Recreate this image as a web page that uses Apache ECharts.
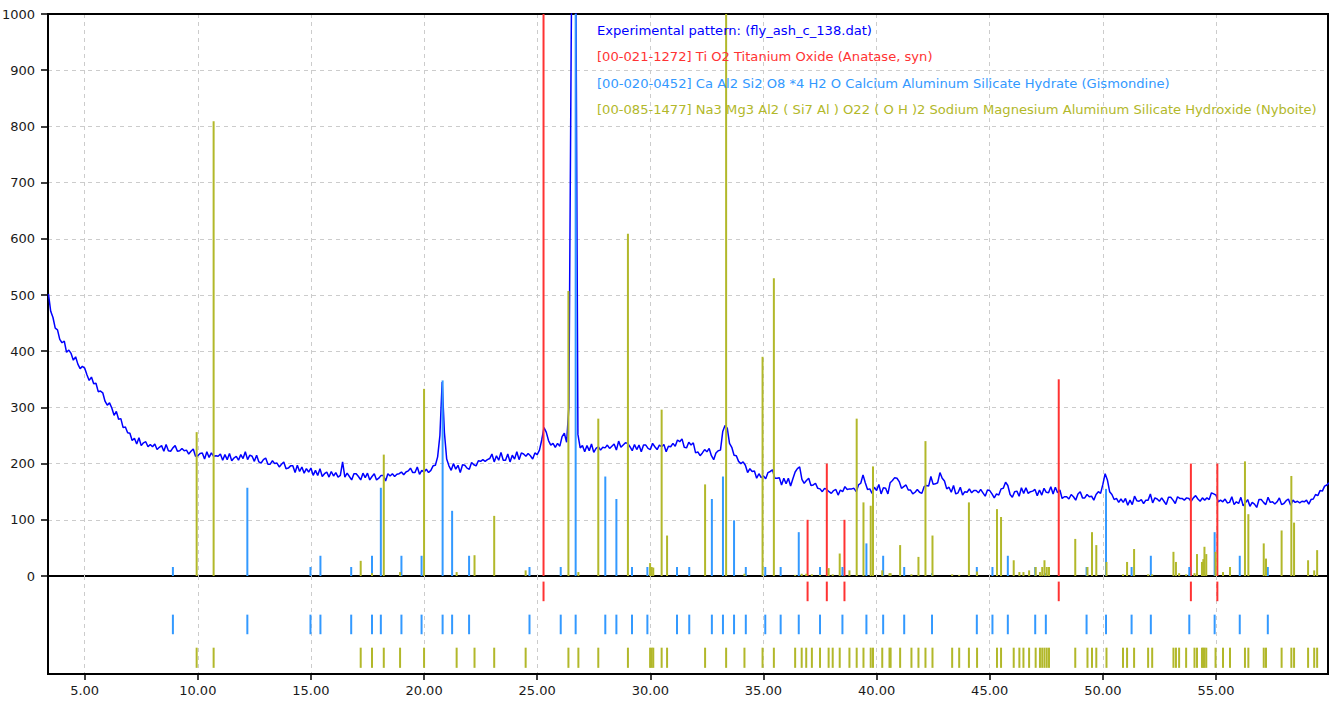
<!DOCTYPE html>
<html>
<head>
<meta charset="utf-8">
<title>XRD pattern – fly_ash_c_138</title>
<script src="https://cdn.jsdelivr.net/npm/echarts@6/dist/echarts.min.js"></script>
<style>
  html, body { margin: 0; padding: 0; background: #ffffff; }
  #chart { width: 1329px; height: 709px; }
</style>
</head>
<body>
<div id="chart"></div>
<script>
// ---- Scan range (2-theta, degrees) ----
const twoThetaMin = 3.38;
const twoThetaMax = 59.95;
const twoThetaTicks = [5, 10, 15, 20, 25, 30, 35, 40, 45, 50, 55];

// ---- Experimental pattern: start angle, step and counts ----
const scanStart = 3.4;
const scanStep = 0.1;
const counts = [
  502, 471, 460, 441, 438, 421,
  415, 418, 398, 402, 396, 384, 390, 377, 369, 373,
  370, 358, 348, 354, 342, 343, 328, 329, 326, 311,
  304, 308, 299, 286, 293, 279, 280, 264, 265, 255,
  254, 241, 245, 235, 246, 232, 237, 239, 230, 234,
  230, 235, 225, 229, 232, 222, 234, 223, 222, 228,
  232, 222, 223, 227, 223, 224, 217, 222, 226, 213,
  214, 218, 219, 208, 221, 211, 219, 213, 214, 213,
  217, 206, 216, 207, 218, 205, 210, 213, 206, 216,
  209, 221, 207, 215, 213, 204, 215, 203, 201, 207,
  210, 199, 199, 205, 200, 201, 194, 199, 203, 191,
  192, 196, 196, 184, 197, 186, 194, 183, 191, 185,
  192, 179, 188, 179, 191, 177, 182, 185, 176, 186,
  178, 184, 176, 179, 203, 176, 183, 177, 171, 182,
  182, 177, 171, 183, 175, 183, 171, 177, 182, 171,
  174, 179, 179, 169, 182, 178, 182, 177, 181, 182,
  185, 180, 185, 187, 192, 184, 184, 194, 181, 188,
  185, 190, 184, 188, 196, 197, 212, 250, 345, 255,
  208, 196, 188, 200, 190, 197, 184, 198, 197, 192,
  190, 202, 198, 196, 205, 204, 207, 204, 207, 209,
  217, 203, 214, 206, 220, 206, 206, 217, 203, 215,
  208, 221, 207, 219, 217, 213, 218, 214, 208, 219,
  216, 224, 242, 264, 256, 241, 233, 236, 229, 236,
  231, 248, 254, 238, 300, 930, 1500, 1150, 252, 228,
  232, 221, 232, 223, 235, 220, 227, 230, 224, 229,
  228, 233, 227, 231, 235, 224, 240, 229, 233, 237,
  236, 230, 223, 234, 225, 233, 221, 233, 233, 227,
  225, 236, 230, 225, 233, 230, 234, 221, 231, 230,
  236, 231, 242, 239, 244, 229, 228, 238, 233, 237,
  219, 221, 214, 219, 225, 221, 227, 214, 207, 219,
  223, 224, 257, 268, 263, 236, 229, 215, 214, 204,
  200, 203, 197, 184, 191, 186, 187, 174, 182, 175,
  178, 173, 184, 186, 189, 174, 174, 175, 162, 174,
  164, 174, 160, 173, 185, 191, 194, 172, 165, 170,
  174, 161, 162, 165, 156, 155, 150, 156, 154, 150,
  147, 152, 154, 144, 153, 150, 159, 154, 155, 155,
  156, 150, 162, 165, 180, 166, 154, 155, 147, 158,
  152, 163, 146, 157, 156, 146, 166, 170, 175, 174,
  168, 156, 159, 162, 153, 153, 146, 149, 154, 149,
  147, 159, 161, 160, 177, 163, 164, 166, 184, 174,
  169, 155, 158, 149, 161, 146, 148, 158, 144, 150,
  149, 155, 148, 152, 152, 148, 154, 148, 142, 153,
  152, 146, 139, 146, 144, 155, 156, 167, 161, 145,
  140, 150, 151, 142, 157, 147, 157, 147, 150, 151,
  154, 143, 153, 144, 156, 149, 148, 159, 146, 158,
  148, 153, 138, 141, 141, 137, 145, 141, 135, 146,
  150, 139, 139, 145, 141, 142, 135, 145, 150, 147,
  163, 182, 171, 150, 145, 136, 138, 131, 137, 131,
  138, 126, 135, 127, 142, 134, 133, 136, 129, 135,
  135, 146, 130, 139, 137, 133, 139, 133, 127, 140,
  140, 135, 129, 141, 138, 138, 135, 139, 138, 133,
  139, 143, 137, 133, 139, 135, 139, 136, 148, 146,
  144, 132, 135, 132, 137, 130, 131, 141, 127, 132,
  129, 140, 125, 130, 136, 124, 131, 128, 122, 136,
  136, 131, 127, 140, 131, 132, 128, 132, 139, 127,
  129, 134, 137, 126, 135, 131, 133, 130, 133, 132,
  135, 128, 136, 137, 145, 143, 152, 151, 160, 162,
  166
];

// ---- Reference phases: peak positions (2-theta) and scaled intensities ----
const anatasePos = [25.28, 36.95, 37.80, 38.58, 48.05, 53.89, 55.06];
const anataseInt = [1000, 100, 200, 100, 350, 200, 200];

const gismondinePos = [8.90, 12.19, 14.98, 15.42, 16.78, 17.70, 18.09, 19.00, 19.89, 20.82,
  21.24, 21.99, 24.66, 26.04, 26.70, 28.01, 28.50, 29.19, 29.87, 31.18,
  31.72, 32.72, 33.21, 33.70, 34.22, 35.08, 35.76, 36.56, 37.50, 38.49,
  39.55, 40.29, 41.22, 42.45, 44.43, 45.12, 45.80, 47.01, 47.48, 49.28,
  50.14, 51.27, 52.12, 53.82, 54.94, 56.05, 57.29];
const gismondineInt = [16, 157, 16, 36, 16, 36, 157, 36, 36, 348,
  116, 36, 16, 16, 1000, 177, 137, 16, 16, 16,
  16, 137, 177, 99, 16, 16, 16, 78, 16, 16,
  58, 36, 16, 5, 16, 16, 36, 16, 5, 16,
  155, 16, 36, 16, 78, 36, 16];

const nyboitePos = [9.95, 10.70, 17.20, 17.70, 18.22, 18.94, 20.00, 21.44, 22.23, 23.10,
  24.49, 26.38, 26.82, 27.70, 29.01, 29.99, 30.06, 30.13, 30.50, 30.74,
  32.42, 33.35, 34.16, 34.96, 35.46, 36.40, 36.69, 36.89, 37.14, 37.50,
  37.88, 38.06, 38.37, 38.80, 39.12, 39.42, 39.74, 39.84, 40.25, 40.57,
  40.62, 41.04, 41.54, 41.85, 42.16, 42.47, 43.34, 43.65, 44.08, 44.44,
  45.32, 45.50, 46.06, 46.31, 46.49, 46.74, 47.03, 47.22, 47.32, 47.42,
  47.52, 47.62, 48.78, 49.32, 49.52, 49.71, 50.16, 50.89, 51.07, 51.38,
  52.00, 52.18, 53.12, 53.23, 53.37, 53.68, 54.05, 54.16, 54.38, 54.44,
  54.49, 54.57, 54.98, 55.31, 55.62, 56.28, 56.43, 57.11, 57.21, 57.90,
  58.33, 58.45, 59.07, 59.34, 59.47];
const nyboiteInt = [256, 809, 27, 5, 216, 7, 333, 7, 37, 107,
  10, 507, 7, 280, 609, 23, 16, 15, 296, 72,
  163, 1000, 4, 390, 530, 2, 4, 4, 3, 2,
  14, 3, 40, 10, 280, 131, 125, 195, 10, 5,
  5, 55, 3, 34, 240, 72, 3, 2, 131, 8,
  119, 105, 28, 7, 7, 10, 16, 7, 16, 28,
  16, 16, 66, 16, 78, 55, 25, 3, 25, 48,
  3, 3, 43, 25, 5, 3, 5, 39, 25, 30,
  52, 39, 43, 7, 16, 204, 110, 58, 31, 81,
  178, 95, 28, 10, 46];

// ---- Legend lines ----
const legendLabels = [
  'Experimental pattern: (fly_ash_c_138.dat)',
  '[00-021-1272] Ti O2 Titanium Oxide (Anatase, syn)',
  '[00-020-0452] Ca Al2 Si2 O8 *4 H2 O Calcium Aluminum Silicate Hydrate (Gismondine)',
  '[00-085-1477] Na3 Mg3 Al2 ( Si7 Al ) O22 ( O H )2 Sodium Magnesium Aluminum Silicate Hydroxide (Nyboite)'
];

// ---- Styling ----
const COLOR_PATTERN = '#0000ff';
const COLOR_ANATASE = '#ff3333';
const COLOR_GISMONDINE = '#3399ff';
const COLOR_NYBOITE = '#b2b82a';
const FONT = '"DejaVu Sans", Verdana, sans-serif';
const GRID_DASH = { color: '#cccccc', width: 1, type: [4, 4] };

// marker rows (intensity units on the lower panel axis)
const markerRows = {
  anatase: [-10, -45],
  gismondine: [-69, -104],
  nyboite: [-128, -164]
};

const patternData = counts.map((c, i) => [+(scanStart + i * scanStep).toFixed(2), c]);
const pairs = (pos, ints) => pos.map((p, i) => [p, ints[i]]);

function stickItem(color, width) {
  return function (params, api) {
    const x = api.value(0);
    const h = api.value(1);
    const a = api.coord([x, 0]);
    const b = api.coord([x, h]);
    return {
      type: 'line',
      shape: { x1: a[0], y1: a[1], x2: b[0], y2: b[1] },
      style: { stroke: color, lineWidth: width }
    };
  };
}

function markerItem(color, row) {
  return function (params, api) {
    const x = api.value(0);
    const a = api.coord([x, row[0]]);
    const b = api.coord([x, row[1]]);
    return {
      type: 'line',
      shape: { x1: a[0], y1: a[1], x2: b[0], y2: b[1] },
      style: { stroke: color, lineWidth: 2 }
    };
  };
}

const chart = echarts.init(document.getElementById('chart'), null, { renderer: 'svg' });

const gridBase = { left: 48, width: 1280, show: true, borderColor: '#000', borderWidth: 2, backgroundColor: 'transparent', outerBoundsMode: 'none', containLabel: false };

const option = {
  animation: false,
  backgroundColor: '#ffffff',
  grid: [
    Object.assign({ top: 14, height: 562 }, gridBase),
    Object.assign({ top: 576, height: 98 }, gridBase)
  ],
  xAxis: [
    {
      gridIndex: 0, type: 'value', position: 'top', min: twoThetaMin, max: twoThetaMax,
      axisLine: { show: true, onZero: false, lineStyle: { color: '#000', width: 2 } },
      axisTick: { show: false, customValues: twoThetaTicks },
      axisLabel: { show: false, customValues: twoThetaTicks },
      splitLine: { show: true, lineStyle: GRID_DASH }
    },
    {
      gridIndex: 1, type: 'value', min: twoThetaMin, max: twoThetaMax,
      axisLine: { show: true, onZero: false, lineStyle: { color: '#000', width: 2 } },
      axisTick: { show: true, length: 6, customValues: twoThetaTicks, lineStyle: { color: '#000', width: 1.5 } },
      axisLabel: {
        show: true, customValues: twoThetaTicks, margin: 10,
        color: '#1a1a1a', fontFamily: FONT, fontSize: 13,
        formatter: v => v.toFixed(2)
      },
      splitLine: { show: true, lineStyle: GRID_DASH }
    }
  ],
  yAxis: [
    {
      gridIndex: 0, type: 'value', min: 0, max: 1000, interval: 100,
      axisLine: { show: true, lineStyle: { color: '#000', width: 2 } },
      axisTick: { show: true, length: 7, lineStyle: { color: '#000', width: 1.5 } },
      axisLabel: { show: true, margin: 13, color: '#1a1a1a', fontFamily: FONT, fontSize: 13, formatter: v => String(v) },
      splitLine: { show: true, showMinLine: false, showMaxLine: false, lineStyle: GRID_DASH }
    },
    {
      gridIndex: 1, type: 'value', min: -175, max: 0,
      axisLine: { show: true, lineStyle: { color: '#000', width: 2 } },
      axisTick: { show: false },
      axisLabel: { show: false },
      splitLine: { show: false }
    }
  ],
  series: [
    {
      name: legendLabels[0], type: 'line', xAxisIndex: 0, yAxisIndex: 0,
      data: patternData, showSymbol: false, clip: true, z: 3,
      lineStyle: { color: COLOR_PATTERN, width: 1.5 }
    },
    {
      name: legendLabels[1], type: 'custom', xAxisIndex: 0, yAxisIndex: 0, z: 4,
      data: pairs(anatasePos, anataseInt), renderItem: stickItem(COLOR_ANATASE, 2)
    },
    {
      name: legendLabels[2], type: 'custom', xAxisIndex: 0, yAxisIndex: 0, z: 4,
      data: pairs(gismondinePos, gismondineInt), renderItem: stickItem(COLOR_GISMONDINE, 2)
    },
    {
      name: legendLabels[3], type: 'custom', xAxisIndex: 0, yAxisIndex: 0, z: 4,
      data: pairs(nyboitePos, nyboiteInt), renderItem: stickItem(COLOR_NYBOITE, 2)
    },
    {
      type: 'custom', xAxisIndex: 1, yAxisIndex: 1, z: 4,
      data: pairs(anatasePos, anataseInt), renderItem: markerItem(COLOR_ANATASE, markerRows.anatase)
    },
    {
      type: 'custom', xAxisIndex: 1, yAxisIndex: 1, z: 4,
      data: pairs(gismondinePos, gismondineInt), renderItem: markerItem(COLOR_GISMONDINE, markerRows.gismondine)
    },
    {
      type: 'custom', xAxisIndex: 1, yAxisIndex: 1, z: 4,
      data: pairs(nyboitePos, nyboiteInt), renderItem: markerItem(COLOR_NYBOITE, markerRows.nyboite)
    }
  ],
  graphic: legendLabels.map((t, i) => ({
    type: 'text',
    left: 597,
    top: 24 + i * 26.3,
    z: 20,
    style: {
      text: t,
      fill: [COLOR_PATTERN, COLOR_ANATASE, COLOR_GISMONDINE, COLOR_NYBOITE][i],
      font: '13.1px ' + FONT
    }
  }))
};

chart.setOption(option);
</script>
</body>
</html>
